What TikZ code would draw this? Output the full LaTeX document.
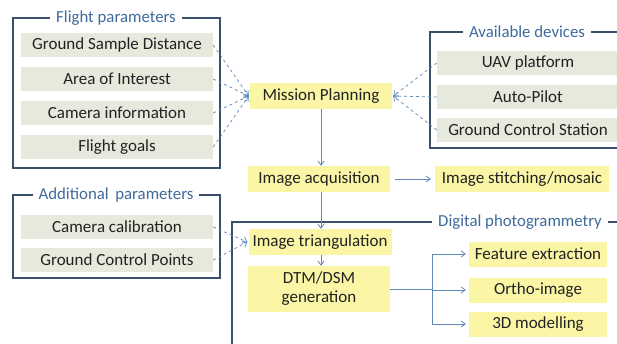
\documentclass[tikz,border=0pt]{standalone}
\usepackage{fontspec}
\setmainfont{Carlito}
\usetikzlibrary{arrows.meta}
\definecolor{framec}{HTML}{3B4F6E}
\definecolor{titlec}{HTML}{3F6B9C}
\definecolor{grayc}{HTML}{E6EADD}
\definecolor{yellc}{HTML}{FBF5A6}
\definecolor{arrc}{HTML}{5E88B8}
\definecolor{txtc}{HTML}{222222}
\tikzset{
  frame/.style={draw=framec, line width=1.8pt},
  ftitle/.style={fill=white, text=titlec, font=\fontsize{16.8}{19}\selectfont, inner xsep=6pt, inner ysep=1pt},
  graybox/.style={fill=grayc, text=txtc, minimum width=192pt, minimum height=24pt, font=\fontsize{17}{19}\selectfont, inner sep=0pt},
  yellbox/.style={fill=yellc, text=txtc, minimum height=26pt, font=\fontsize{17}{19}\selectfont, inner sep=0pt},
  dasharr/.style={draw=arrc, dashed, line width=0.7pt, -{Straight Barb[length=4pt,width=7pt]}},
  solarr/.style={draw=arrc, line width=0.8pt, -{Straight Barb[length=4pt,width=6pt]}},
}
\begin{document}
\begin{tikzpicture}[x=1pt,y=-1pt]
\useasboundingbox (0,0) rectangle (617,343);
% frames
\draw[frame] (13,18) rectangle (220,168);
\node[ftitle] (t1) at (116,18) {Flight parameters};
\draw[frame] (430,32) rectangle (660,148);
\node[ftitle] (t2) at (527,32) {Available devices};
\draw[frame] (13,195) rectangle (220,278);
\node[ftitle] (t3) at (116,195) {Additional\, parameters};
\draw[frame] (232,222) rectangle (680,400);
\node[ftitle] (t4) at (520,222) {Digital photogrammetry};
% gray boxes
\node[graybox] (gsd) at (117,45) {Ground Sample Distance};
\node[graybox] (aoi) at (117,79) {Area of Interest};
\node[graybox] (cam) at (117,113) {Camera information};
\node[graybox] (fg) at (117,147) {Flight goals};
\node[graybox, minimum width=182pt] (uav) at (528,63) {UAV platform};
\node[graybox, minimum width=182pt] (ap) at (528,97) {Auto-Pilot};
\node[graybox, minimum width=182pt] (gcs) at (528,130) {Ground Control Station};
\node[graybox] (cc) at (117,227) {Camera calibration};
\node[graybox] (gcp) at (117,260) {Ground Control Points};
% yellow boxes
\node[yellbox, minimum width=142pt] (mp) at (321,96) {Mission Planning};
\node[yellbox, minimum width=142pt] (ia) at (319,179) {Image acquisition};
\node[yellbox, minimum width=174pt] (is) at (522,179) {Image stitching/mosaic};
\node[yellbox, minimum width=143pt] (it) at (320,242) {Image triangulation};
\node[yellbox, minimum width=142pt, minimum height=46pt, align=center] (dtm) at (319,289) {DTM/DSM\\generation};
\node[yellbox, minimum width=138pt, minimum height=25pt] (fe) at (538,254) {Feature extraction};
\node[yellbox, minimum width=138pt, minimum height=25pt] (oi) at (538,290) {Ortho-image};
\node[yellbox, minimum width=138pt, minimum height=25pt] (dm) at (538,324) {3D modelling};
% dashed arrows
\foreach \n in {gsd,aoi,cam,fg} \draw[dasharr] (\n.east) -- ([xshift=-1pt]mp.west);
\foreach \n in {uav,ap,gcs} \draw[dasharr] (\n.west) -- ([xshift=1pt]mp.east);
\foreach \n in {cc,gcp} \draw[dasharr] (\n.east) -- ([xshift=-1pt]it.west);
% solid arrows
\draw[solarr] (mp.south) -- (ia.north -| mp.south);
\draw[solarr] (ia.south -| mp.south) -- (it.north -| mp.south);
\draw[solarr] (it.south -| mp.south) -- (dtm.north -| mp.south);
\draw[solarr] ([xshift=5pt]ia.east) -- ([xshift=-4pt]is.west);
\coordinate (br) at (432,289);
\draw[draw=arrc, line width=0.8pt] (dtm.east) -- (br);
\draw[draw=arrc, line width=0.8pt] (br |- fe.west) -- (br |- dm.west);
\draw[solarr] (br |- fe.west) -- ([xshift=-3pt]fe.west);
\draw[solarr] (br |- oi.west) -- ([xshift=-3pt]oi.west);
\draw[solarr] (br |- dm.west) -- ([xshift=-3pt]dm.west);
\end{tikzpicture}
\end{document}
